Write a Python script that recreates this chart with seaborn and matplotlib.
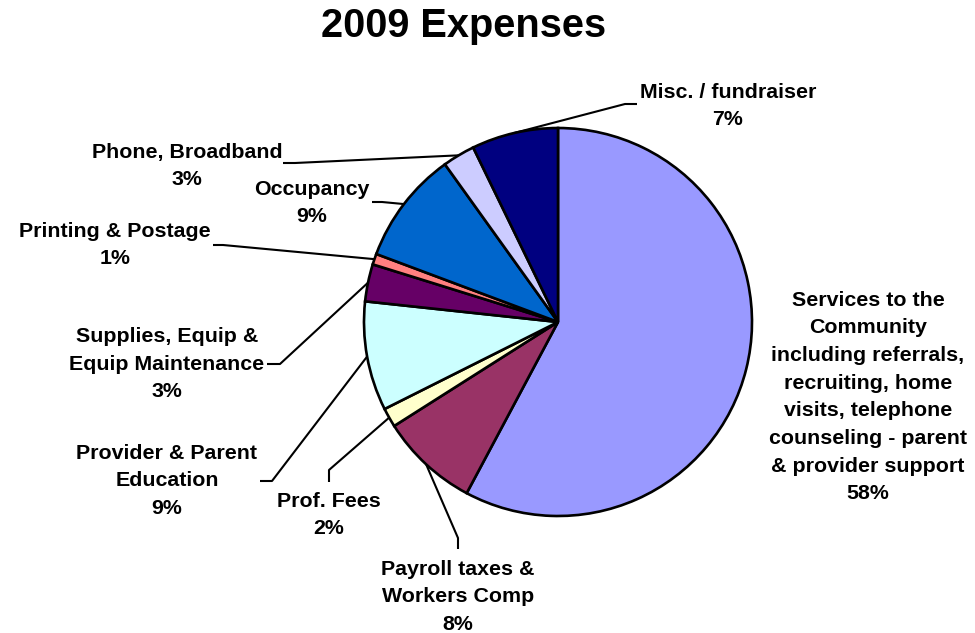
import numpy as np
import matplotlib
matplotlib.use("Agg")
import matplotlib.pyplot as plt
import seaborn as sns

# ---- data (clockwise from 12 o'clock) ----
categories = [
    "Services to the\nCommunity\nincluding referrals,\nrecruiting, home\nvisits, telephone\ncounseling - parent\n& provider support",
    "Payroll taxes &\nWorkers Comp",
    "Prof. Fees",
    "Provider & Parent\nEducation",
    "Supplies, Equip &\nEquip Maintenance",
    "Printing & Postage",
    "Occupancy",
    "Phone, Broadband",
    "Misc. / fundraiser",
]
values = [57.8, 8.2, 1.6, 9.1, 3.1, 0.9, 9.4, 2.7, 7.2]
colors = ["#9999FF", "#993366", "#FFFFCC", "#CCFFFF", "#660066",
          "#FF8080", "#0066CC", "#CCCCFF", "#000080"]

sns.set_theme(style="white")
plt.rcParams["font.family"] = ["Liberation Sans", "DejaVu Sans"]
plt.rcParams["text.color"] = "black"

W, H = 975, 633
CX, CY, R = 558, 322, 194  # pie centre / radius in pixels

fig = plt.figure(figsize=(W / 100, H / 100), dpi=100)
ax = fig.add_axes([0, 0, 1, 1])

wedges, _ = ax.pie(values, colors=colors, startangle=90, counterclock=False,
                   wedgeprops=dict(edgecolor="black", linewidth=1.9))
ax.set_xlim(-CX / R, (W - CX) / R)
ax.set_ylim((CY - H) / R, CY / R)
ax.set_aspect("auto")
ax.axis("off")


def P(px, py):
    return ((px - CX) / R, (CY - py) / R)


# label layout in pixel space: (text centre, elbow, line end near text)
layout = [
    ((868, 397), None, None),
    ((458, 597), (458, 538), (458, 549)),
    ((329, 515), (329, 470), (329, 482)),
    ((167, 481), (272, 481), (260, 481)),
    ((167, 364), (280, 364), (267, 364)),
    ((115, 245), (223, 245), (213, 245)),
    ((312, 203), (382, 202), (372, 202)),
    ((187, 166), (295, 163), (283, 163)),
    ((728, 106), (625, 104), (637, 104)),
]

fs = 15.4
for w, cat, v, (tpos, elbow, end) in zip(wedges, categories, values, layout):
    ang = np.deg2rad((w.theta1 + w.theta2) / 2)
    rim = (np.cos(ang), np.sin(ang))
    ax.text(*P(*tpos), f"{cat}\n{round(v)}%", ha="center", va="center",
            fontsize=fs, fontweight="bold", linespacing=1.575, color="black")
    if elbow is not None:
        e = P(*elbow)
        t = P(*end)
        ax.plot([rim[0], e[0], t[0]], [rim[1], e[1], t[1]],
                color="black", lw=1.5, solid_capstyle="butt", zorder=0.5)

fig.text(464 / W, 1 - 26 / H, "2009 Expenses", ha="center", va="center",
         fontsize=28.6, fontweight="bold", color="black")

fig.savefig("out.png", dpi=100, facecolor="white")
